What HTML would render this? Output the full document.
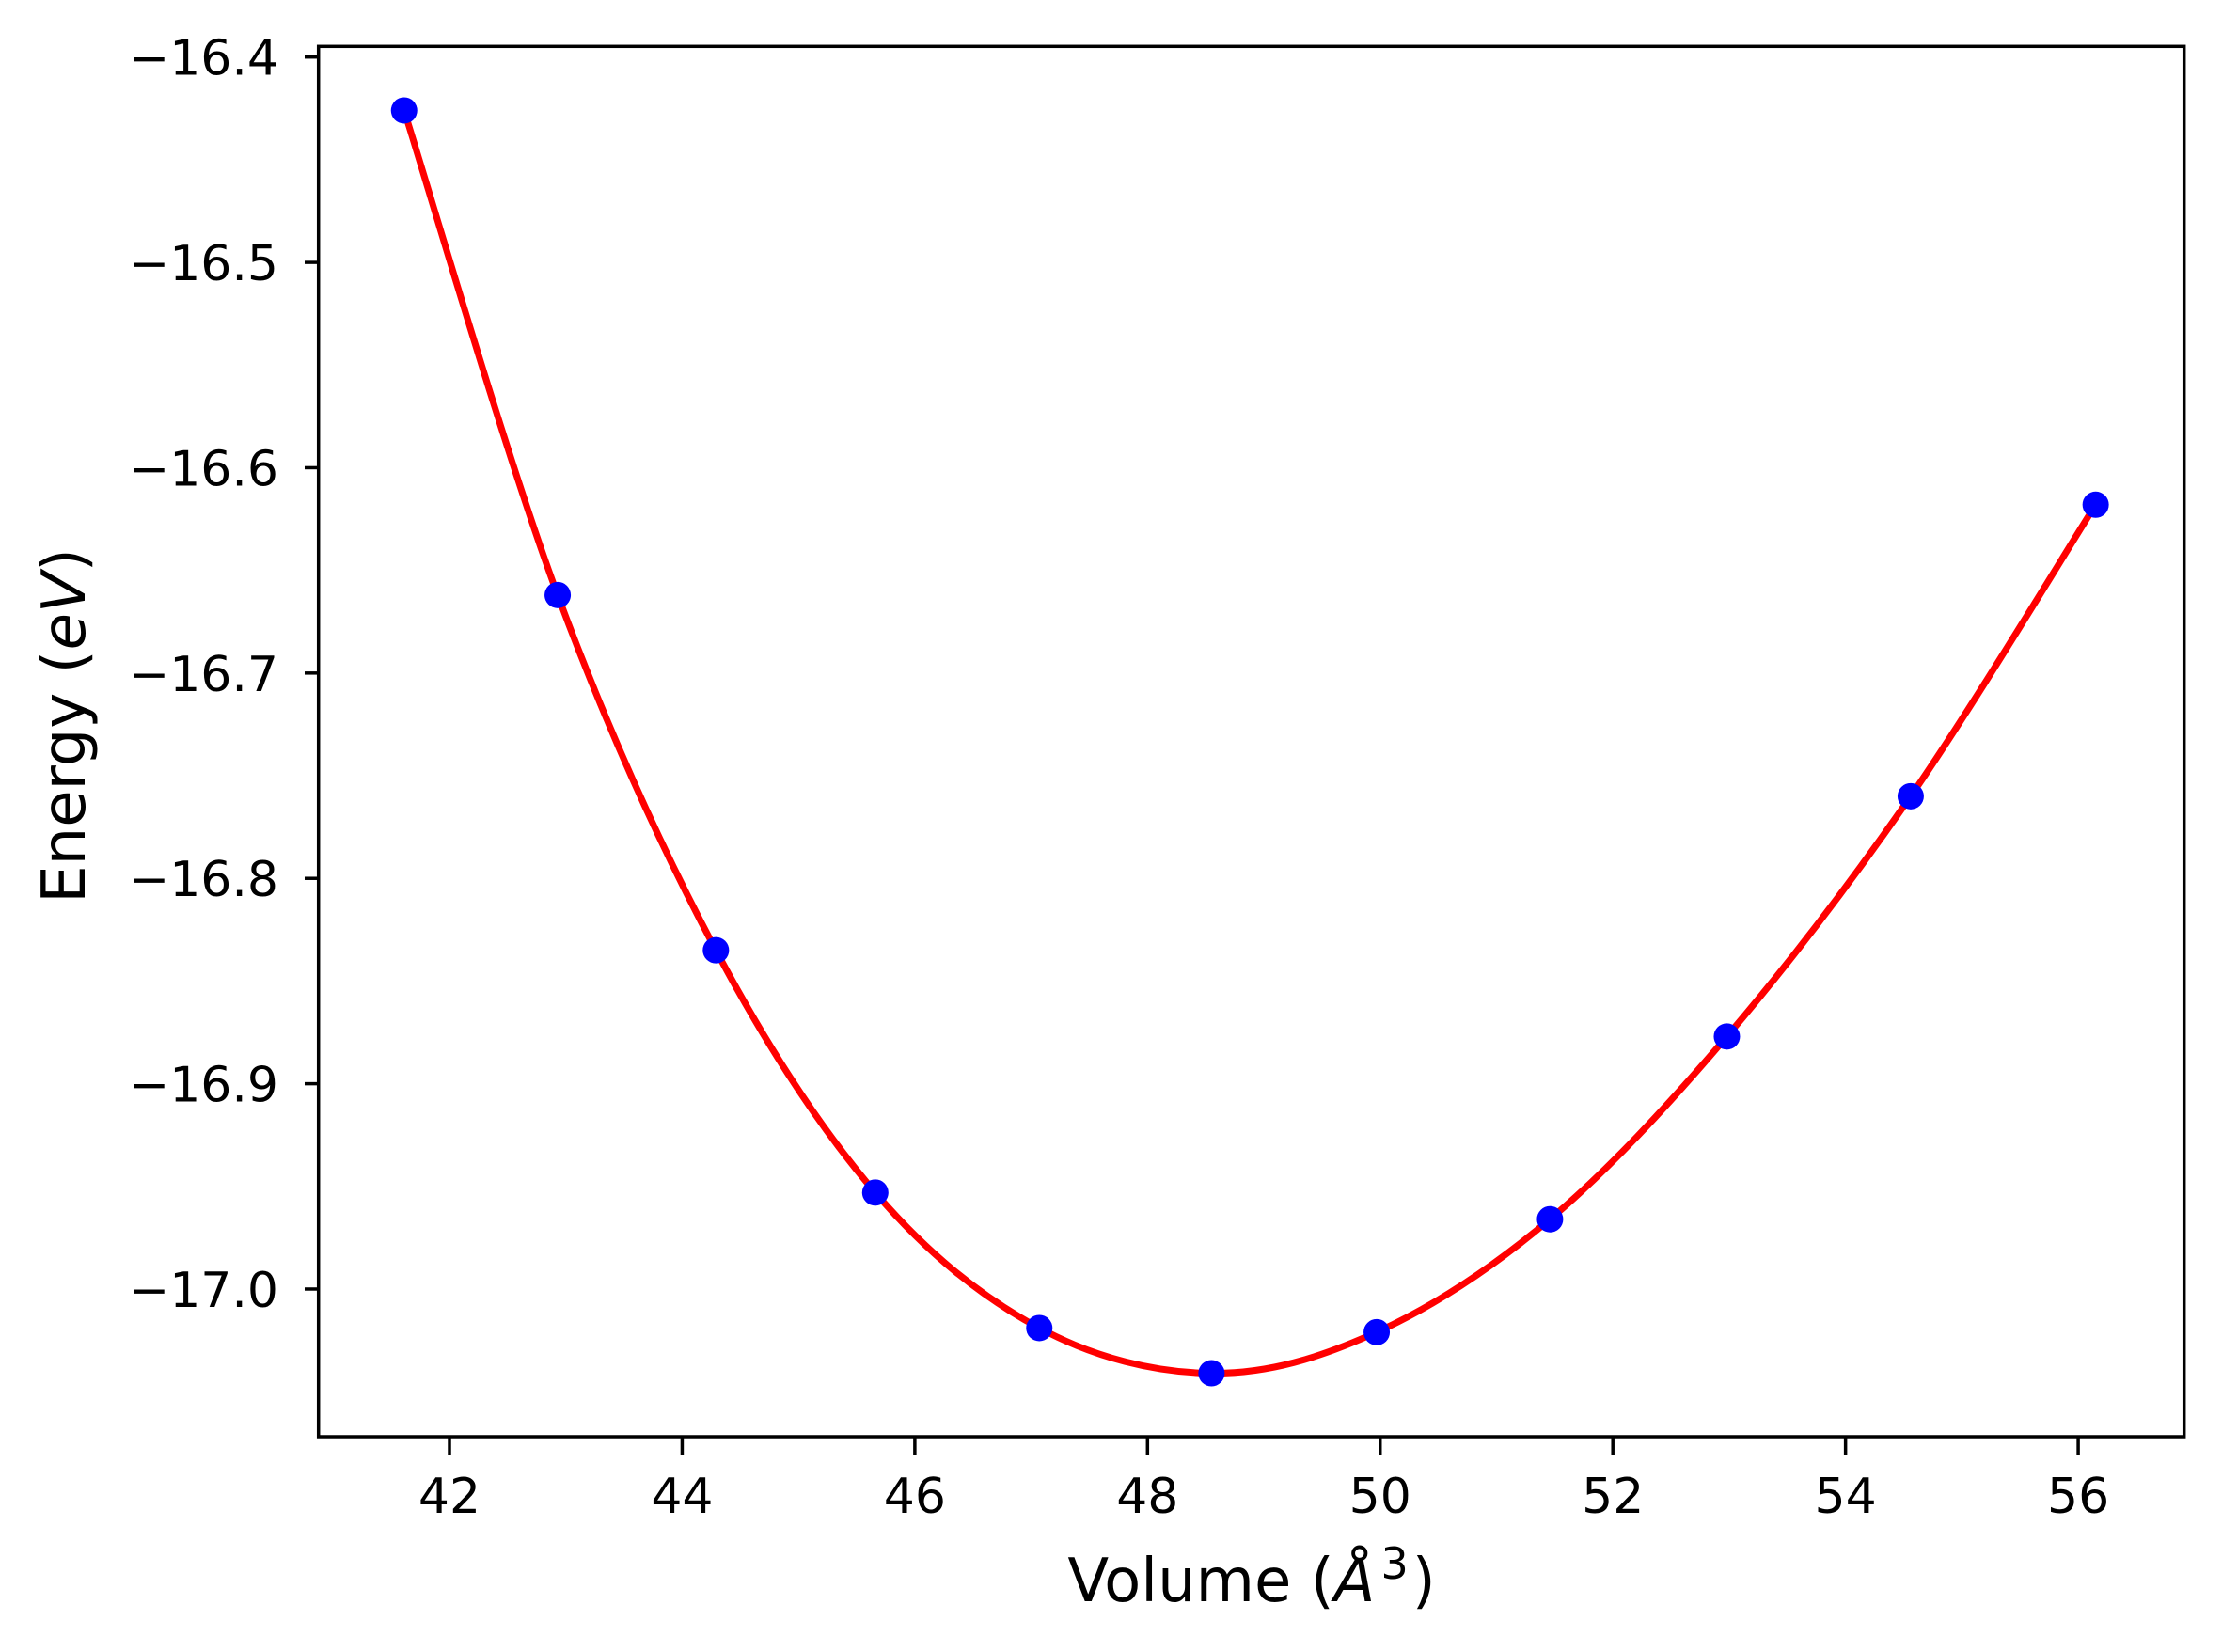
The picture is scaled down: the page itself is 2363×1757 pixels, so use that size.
<!DOCTYPE html>
<html><head><meta charset="utf-8"><style>
html,body{margin:0;padding:0;background:#fff;}
svg{display:block;font-family:"DejaVu Sans","Liberation Sans",sans-serif;}
</style></head><body>
<svg id="chart" width="2363" height="1757" viewBox="0 0 2363 1757" xmlns="http://www.w3.org/2000/svg">
<rect x="0" y="0" width="2363" height="1757" fill="#fff"/>
<g id="plot"></g>
<rect x="338.7" y="49.3" width="1984" height="1478.7" fill="none" stroke="#000" stroke-width="3.5"/>
<g id="xticks"></g>
<g id="yticks"></g>
<text x="1331" y="1703" font-size="64" text-anchor="middle">Volume (<tspan font-style="italic">Å</tspan><tspan font-size="46" dy="-24" dx="6">3</tspan><tspan dy="24" dx="4">)</tspan></text>
<text transform="translate(90,772) rotate(-90)" font-size="64" text-anchor="middle">Energy (<tspan font-style="italic">eV</tspan>)</text>
</svg>
<script>
const volumes = [41.61, 42.93, 44.29, 45.66, 47.07, 48.55, 49.97, 51.46, 52.98, 54.56, 56.15];
const energies = [-16.426, -16.662, -16.835, -16.953, -17.019, -17.041, -17.021, -16.966, -16.877, -16.760, -16.618];
const xTickValues = [42, 44, 46, 48, 50, 52, 54, 56];
const yTickValues = [-16.4, -16.5, -16.6, -16.7, -16.8, -16.9, -17.0];

const NS = "http://www.w3.org/2000/svg";
function xs(v){ return 478 + (v - 42) * 123.72; }
function ys(v){ return 60.7 + (-16.4 - v) * 2183.8; }
function mk(tag, attrs, parent){ const e = document.createElementNS(NS, tag); for (const k in attrs) e.setAttribute(k, attrs[k]); parent.appendChild(e); return e; }

const plot = document.getElementById('plot');
const P = volumes.map((v,i)=>[xs(v), ys(energies[i])]);
let d = "M" + P[0][0] + "," + P[0][1];
for (let i = 0; i < P.length - 1; i++) {
  const p0 = P[Math.max(0,i-1)], p1 = P[i], p2 = P[i+1], p3 = P[Math.min(P.length-1,i+2)];
  const c1 = [p1[0] + (p2[0]-p0[0])/6, p1[1] + (p2[1]-p0[1])/6];
  const c2 = [p2[0] - (p3[0]-p1[0])/6, p2[1] - (p3[1]-p1[1])/6];
  d += " C" + c1[0] + "," + c1[1] + " " + c2[0] + "," + c2[1] + " " + p2[0] + "," + p2[1];
}
const line = mk('path', {d: d, fill: 'none', stroke: '#ff0000', 'stroke-width': 7}, plot);


volumes.forEach((v, i) => {
  const c = mk('circle', {cx: xs(v), cy: ys(energies[i]), r: 14, fill: '#0000ff'}, plot);
  
  
});

const xg = document.getElementById('xticks');
xTickValues.forEach(v => {
  const x = xs(v);
  const t = mk('line', {x1: x, x2: x, y1: 1528, y2: 1547, stroke: '#000', 'stroke-width': 3.5}, xg);
  
  
  const l = mk('text', {x: x, y: 1609, 'font-size': 52, 'text-anchor': 'middle'}, xg);
  l.textContent = String(v);
  
  
});
const yg = document.getElementById('yticks');
yTickValues.forEach(v => {
  const y = ys(v);
  const t = mk('line', {x1: 324, x2: 338.7, y1: y, y2: y, stroke: '#000', 'stroke-width': 3.5}, yg);
  
  
  const l = mk('text', {x: 296, y: y + 19, 'font-size': 52, 'text-anchor': 'end'}, yg);
  l.textContent = "\u2212" + Math.abs(v).toFixed(1);
  
  
});
</script>
</body></html>
